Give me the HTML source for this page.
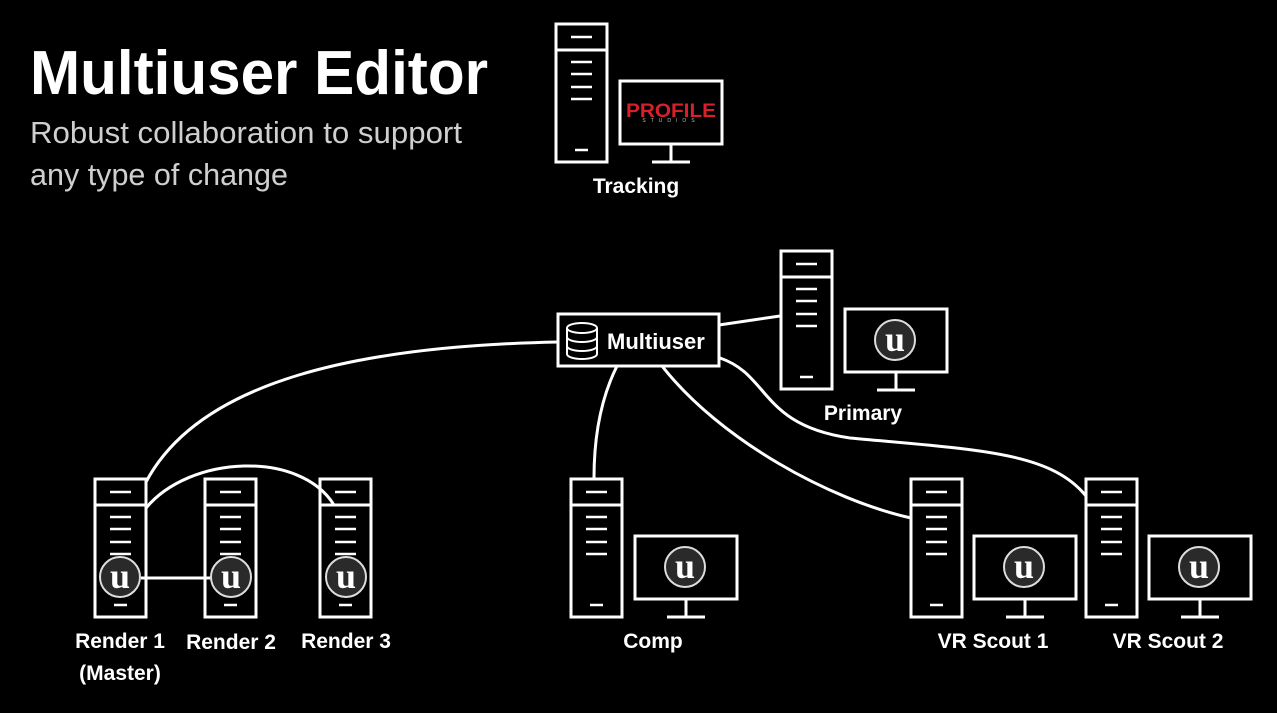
<!DOCTYPE html>
<html><head><meta charset="utf-8"><style>
html,body{margin:0;padding:0;background:#000;}
svg{display:block;}
text{font-family:"Liberation Sans",sans-serif;}
</style></head><body>
<svg width="1277" height="713" viewBox="0 0 1277 713" xmlns="http://www.w3.org/2000/svg">
<defs>
<g id="tower" fill="none" stroke="#fff" stroke-width="3">
  <rect x="0" y="0" width="51" height="138"/>
  <line x1="0" y1="26" x2="51" y2="26"/>
  <line x1="15" y1="13" x2="36" y2="13" stroke-width="2.5"/>
  <line x1="15" y1="38" x2="36" y2="38" stroke-width="2.5"/>
  <line x1="15" y1="50" x2="36" y2="50" stroke-width="2.5"/>
  <line x1="15" y1="63" x2="36" y2="63" stroke-width="2.5"/>
  <line x1="15" y1="75" x2="36" y2="75" stroke-width="2.5"/>
  <line x1="19" y1="126" x2="32" y2="126" stroke-width="2.5"/>
</g>
<g id="ue">
  <circle r="20" fill="#2a2a2a" stroke="#ddd" stroke-width="2"/>
  <text x="0" y="11" text-anchor="middle" font-family="Liberation Serif,serif" font-weight="bold" font-size="36" fill="#fff" style="font-family:'Liberation Serif',serif">u</text>
</g>
<g id="monitor" fill="none" stroke="#fff" stroke-width="3">
  <rect x="0" y="0" width="102" height="63"/>
  <line x1="51" y1="63" x2="51" y2="81"/>
  <line x1="32" y1="81" x2="70" y2="81"/>
</g>
</defs>

<text x="30" y="94" font-size="62" font-weight="bold" fill="#fff" textLength="458" lengthAdjust="spacingAndGlyphs">Multiuser Editor</text>
<text x="30" y="143" font-size="31" fill="#cfcfcf" textLength="432" lengthAdjust="spacingAndGlyphs">Robust collaboration to support</text>
<text x="30" y="185" font-size="31" fill="#cfcfcf" textLength="258" lengthAdjust="spacingAndGlyphs">any type of change</text>

<!-- Tracking -->
<use href="#tower" x="556" y="24"/>
<use href="#monitor" x="620" y="81"/>
<text x="671" y="117" text-anchor="middle" font-size="19" font-weight="bold" fill="#d8202a" textLength="90" lengthAdjust="spacingAndGlyphs">PROFILE</text>
<text x="671" y="122" text-anchor="middle" font-size="5" fill="#bbb" letter-spacing="5">STUDIOS</text>
<text x="636" y="193" text-anchor="middle" font-size="21" font-weight="bold" fill="#fff">Tracking</text>

<!-- Connectors -->
<g fill="none" stroke="#fff" stroke-width="3">
  <path d="M558,342 C 360,346 200,380 146,482"/>
  <path d="M146,508 C 190,455 300,450 334,505"/>
  <line x1="141" y1="578" x2="211" y2="578"/>
  <line x1="719" y1="325" x2="780" y2="316"/>
  <path d="M617,366 C 600,400 594,440 594,478"/>
  <path d="M662,366 C 720,440 830,500 911,518"/>
  <path d="M720,358 C 770,375 760,425 850,438 C 980,450 1050,452 1086,496"/>
</g>

<!-- Multiuser -->
<rect x="558" y="314" width="161" height="52" fill="#000" stroke="#fff" stroke-width="3"/>
<g fill="none" stroke="#fff" stroke-width="2">
  <ellipse cx="582" cy="328" rx="15" ry="5"/>
  <path d="M567,328 V354 A15,5 0 0 0 597,354 V328"/>
  <path d="M567,337 A15,5 0 0 0 597,337"/>
  <path d="M567,346 A15,5 0 0 0 597,346"/>
</g>
<text x="607" y="349" font-size="22" font-weight="bold" fill="#fff">Multiuser</text>

<!-- Primary -->
<use href="#tower" x="781" y="251"/>
<use href="#monitor" x="845" y="309"/>
<use href="#ue" x="895" y="340"/>
<text x="863" y="420" text-anchor="middle" font-size="21" font-weight="bold" fill="#fff">Primary</text>

<!-- Renders -->
<use href="#tower" x="95" y="479"/>
<use href="#ue" x="120" y="577"/>
<use href="#tower" x="205" y="479"/>
<use href="#ue" x="231" y="577"/>
<use href="#tower" x="320" y="479"/>
<use href="#ue" x="346" y="577"/>
<text x="120" y="648" text-anchor="middle" font-size="21" font-weight="bold" fill="#fff">Render 1</text>
<text x="120" y="680" text-anchor="middle" font-size="21" font-weight="bold" fill="#fff">(Master)</text>
<text x="231" y="649" text-anchor="middle" font-size="21" font-weight="bold" fill="#fff">Render 2</text>
<text x="346" y="648" text-anchor="middle" font-size="21" font-weight="bold" fill="#fff">Render 3</text>

<!-- Comp -->
<use href="#tower" x="571" y="479"/>
<use href="#monitor" x="635" y="536"/>
<use href="#ue" x="685" y="567"/>
<text x="653" y="648" text-anchor="middle" font-size="21" font-weight="bold" fill="#fff">Comp</text>

<!-- VR Scout 1 -->
<use href="#tower" x="911" y="479"/>
<use href="#monitor" x="974" y="536"/>
<use href="#ue" x="1024" y="567"/>
<text x="993" y="648" text-anchor="middle" font-size="21" font-weight="bold" fill="#fff">VR Scout 1</text>

<!-- VR Scout 2 -->
<use href="#tower" x="1086" y="479"/>
<use href="#monitor" x="1149" y="536"/>
<use href="#ue" x="1199" y="567"/>
<text x="1168" y="648" text-anchor="middle" font-size="21" font-weight="bold" fill="#fff">VR Scout 2</text>
</svg>
</body></html>
